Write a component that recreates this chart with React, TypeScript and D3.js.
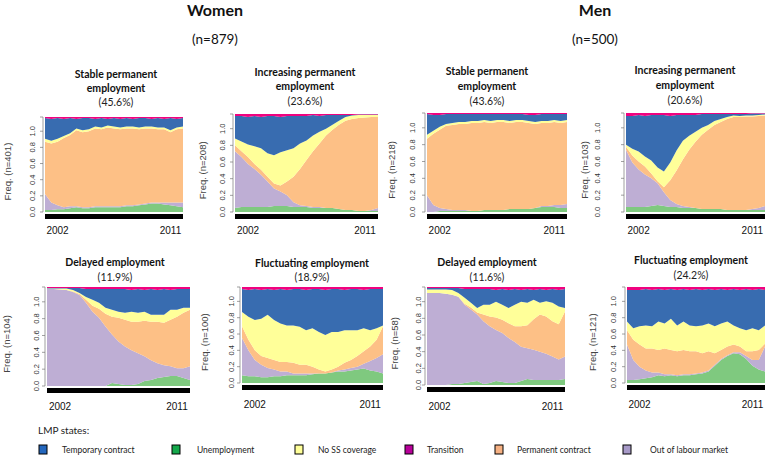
import * as d3 from 'd3'

const W = 766, H = 460

// half-year steps, Jan 2001 .. Jan 2012
const years = [2001, 2001.5, 2002, 2002.5, 2003, 2003.5, 2004, 2004.5, 2005, 2005.5, 2006, 2006.5,
  2007, 2007.5, 2008, 2008.5, 2009, 2009.5, 2010, 2010.5, 2011, 2011.5, 2012]

// stacking order, bottom -> top
const states = ['unemp', 'out', 'perm', 'noss', 'temp', 'trans']
const areaFill = {
  unemp: '#7fc97f', out: '#beaed4', perm: '#fdc086',
  noss: '#ffff99', temp: '#386cb0', trans: '#f0027f'
}

const legendLabels = ['Temporary contract', 'Unemployment', 'No SS coverage', 'Transition', 'Permanent contract', 'Out of labour market']
const legendColors = ['#2467bd', '#14a84b', '#ffff99', '#b8009a', '#f6b183', '#a79ac8']

// Women - stable permanent employment
const wStable = {
  unemp: [0.02,0.02,0.03,0.03,0.04,0.05,0.04,0.04,0.05,0.05,0.05,0.05,0.05,0.06,0.06,0.07,0.08,0.09,0.09,0.08,0.07,0.06,0.05],
  out:   [0.17,0.08,0.04,0.02,0.02,0.01,0.01,0.01,0.01,0.01,0.01,0.01,0.01,0.01,0.01,0.01,0.01,0.01,0.01,0.02,0.03,0.04,0.05],
  perm:  [0.55,0.62,0.67,0.73,0.75,0.80,0.79,0.80,0.82,0.81,0.83,0.82,0.81,0.81,0.81,0.79,0.79,0.78,0.77,0.77,0.74,0.77,0.78],
  noss:  [0.03,0.03,0.03,0.02,0.02,0.02,0.02,0.02,0.02,0.02,0.02,0.02,0.02,0.02,0.02,0.02,0.02,0.02,0.02,0.02,0.02,0.02,0.02],
  temp:  [0.22,0.23,0.22,0.18,0.16,0.10,0.13,0.12,0.08,0.10,0.07,0.09,0.09,0.09,0.08,0.10,0.09,0.08,0.10,0.09,0.13,0.09,0.09],
  trans: [0.01,0.02,0.01,0.02,0.01,0.02,0.01,0.01,0.02,0.01,0.02,0.01,0.02,0.01,0.02,0.01,0.01,0.02,0.01,0.02,0.01,0.02,0.01]
}

// Women - increasing permanent employment
const wIncreasing = {
  unemp: [0.04,0.05,0.05,0.05,0.05,0.05,0.06,0.06,0.06,0.05,0.05,0.05,0.04,0.04,0.04,0.04,0.03,0.02,0.02,0.01,0.01,0.01,0.01],
  out:   [0.58,0.51,0.44,0.39,0.33,0.26,0.18,0.15,0.11,0.05,0.02,0.01,0.01,0.01,0,0,0,0,0,0,0,0.01,0.03],
  perm:  [0.06,0.06,0.07,0.05,0.05,0.05,0.05,0.06,0.14,0.26,0.37,0.47,0.57,0.65,0.74,0.80,0.86,0.91,0.93,0.95,0.955,0.95,0.93],
  noss:  [0.07,0.10,0.13,0.18,0.22,0.24,0.29,0.34,0.32,0.29,0.26,0.20,0.16,0.12,0.07,0.05,0.04,0.04,0.035,0.03,0.025,0.02,0.02],
  temp:  [0.23,0.26,0.28,0.31,0.32,0.38,0.40,0.36,0.35,0.33,0.28,0.25,0.21,0.16,0.14,0.10,0.06,0.02,0.005,0.005,0.005,0.005,0.005],
  trans: [0.02,0.02,0.03,0.02,0.03,0.02,0.02,0.03,0.02,0.02,0.02,0.02,0.01,0.02,0.01,0.01,0.01,0.01,0.01,0.005,0.005,0.005,0.005]
}

// Men - stable permanent employment
const mStable = {
  unemp: [0,0,0.01,0.01,0.01,0.01,0.01,0.01,0.01,0.02,0.02,0.02,0.02,0.03,0.03,0.03,0.03,0.04,0.05,0.05,0.05,0.04,0.04],
  out:   [0.17,0.07,0.03,0.02,0.01,0.01,0.01,0,0,0,0,0,0,0,0,0,0,0,0.01,0.01,0.02,0.03,0.04],
  perm:  [0.57,0.72,0.79,0.84,0.86,0.87,0.87,0.89,0.89,0.89,0.88,0.89,0.89,0.87,0.88,0.88,0.87,0.85,0.84,0.84,0.84,0.83,0.83],
  noss:  [0.04,0.03,0.03,0.02,0.02,0.02,0.02,0.02,0.02,0.02,0.02,0.02,0.02,0.02,0.02,0.02,0.02,0.02,0.02,0.02,0.02,0.02,0.02],
  temp:  [0.21,0.16,0.12,0.10,0.09,0.08,0.08,0.07,0.07,0.06,0.07,0.06,0.06,0.07,0.06,0.06,0.06,0.07,0.07,0.07,0.06,0.07,0.06],
  trans: [0.01,0.02,0.02,0.01,0.01,0.01,0.01,0.01,0.01,0.01,0.01,0.01,0.01,0.01,0.01,0.01,0.02,0.02,0.01,0.01,0.01,0.01,0.01]
}

// Men - increasing permanent employment
const mIncreasing = {
  unemp: [0.05,0.05,0.05,0.05,0.06,0.07,0.06,0.05,0.05,0.04,0.04,0.04,0.03,0.03,0.03,0.03,0.02,0.02,0.02,0.02,0.02,0.02,0.02],
  out:   [0.58,0.45,0.38,0.33,0.28,0.22,0.14,0.07,0.03,0.02,0.01,0,0,0,0,0,0,0,0,0,0.01,0.02,0.04],
  perm:  [0.03,0.07,0.08,0.08,0.05,0.02,0.05,0.20,0.34,0.47,0.58,0.67,0.75,0.80,0.85,0.88,0.92,0.94,0.94,0.945,0.935,0.93,0.915],
  noss:  [0.02,0.07,0.10,0.10,0.13,0.14,0.16,0.18,0.20,0.19,0.14,0.10,0.07,0.05,0.04,0.03,0.02,0.015,0.01,0.01,0.01,0.01,0.01],
  temp:  [0.29,0.33,0.37,0.41,0.46,0.53,0.57,0.47,0.36,0.26,0.21,0.17,0.14,0.11,0.07,0.05,0.03,0.015,0.02,0.015,0.02,0.015,0.01],
  trans: [0.03,0.03,0.02,0.03,0.02,0.02,0.02,0.03,0.02,0.02,0.02,0.02,0.01,0.01,0.01,0.01,0.01,0.01,0.01,0.01,0.005,0.005,0.005]
}

// Women - delayed employment
const wDelayed = {
  unemp: [0,0,0,0,0,0,0,0,0,0,0.03,0.02,0.01,0.01,0.02,0.05,0.06,0.08,0.09,0.10,0.10,0.08,0.06],
  out:   [0.98,0.98,0.975,0.97,0.95,0.92,0.84,0.75,0.69,0.60,0.49,0.43,0.39,0.35,0.31,0.25,0.20,0.15,0.12,0.10,0.08,0.10,0.14],
  perm:  [0,0,0,0,0.005,0.01,0.03,0.06,0.09,0.13,0.18,0.24,0.27,0.29,0.32,0.36,0.39,0.42,0.43,0.47,0.52,0.56,0.57],
  noss:  [0.005,0.005,0.01,0.015,0.015,0.01,0.03,0.06,0.06,0.06,0.07,0.06,0.07,0.10,0.09,0.09,0.07,0.07,0.08,0.10,0.07,0.05,0.02],
  temp:  [0.005,0.005,0.005,0.005,0.02,0.05,0.08,0.11,0.14,0.19,0.21,0.23,0.24,0.22,0.24,0.22,0.26,0.25,0.26,0.20,0.21,0.19,0.19],
  trans: [0.01,0.01,0.01,0.01,0.01,0.01,0.02,0.02,0.02,0.02,0.02,0.02,0.02,0.03,0.02,0.03,0.02,0.03,0.02,0.03,0.02,0.02,0.02]
}

// Women - fluctuating employment
const wFluctuating = {
  unemp: [0.08,0.07,0.07,0.06,0.06,0.07,0.07,0.08,0.08,0.08,0.08,0.09,0.10,0.10,0.11,0.12,0.12,0.13,0.14,0.15,0.13,0.12,0.10],
  out:   [0.39,0.27,0.17,0.13,0.095,0.07,0.05,0.04,0.02,0.02,0.02,0.01,0,0,0,0.01,0.02,0.025,0.03,0.05,0.10,0.14,0.20],
  perm:  [0.12,0.11,0.10,0.09,0.105,0.10,0.10,0.10,0.11,0.09,0.09,0.07,0.04,0.02,0.03,0.04,0.07,0.085,0.11,0.13,0.15,0.19,0.29],
  noss:  [0.15,0.24,0.315,0.39,0.45,0.415,0.40,0.38,0.39,0.395,0.36,0.40,0.39,0.38,0.39,0.36,0.34,0.31,0.27,0.24,0.17,0.12,0.01],
  temp:  [0.24,0.28,0.325,0.30,0.27,0.315,0.36,0.37,0.38,0.395,0.42,0.41,0.45,0.47,0.45,0.45,0.42,0.43,0.43,0.40,0.43,0.41,0.38],
  trans: [0.02,0.03,0.02,0.03,0.02,0.03,0.02,0.03,0.02,0.02,0.03,0.02,0.02,0.03,0.02,0.02,0.03,0.02,0.02,0.03,0.02,0.02,0.02]
}

// Men - delayed employment
const mDelayed = {
  unemp: [0,0,0,0,0.01,0.01,0.02,0.03,0.04,0.01,0.02,0.04,0.03,0.02,0.02,0.04,0.06,0.05,0.05,0.05,0.05,0.05,0.06],
  out:   [0.94,0.94,0.94,0.93,0.91,0.89,0.80,0.74,0.68,0.64,0.58,0.52,0.50,0.46,0.42,0.35,0.315,0.31,0.29,0.27,0.24,0.21,0.23],
  perm:  [0,0,0,0,0,0,0.01,0.02,0.02,0.07,0.10,0.13,0.135,0.15,0.16,0.21,0.235,0.31,0.38,0.38,0.36,0.36,0.46],
  noss:  [0.035,0.035,0.035,0.045,0.05,0.04,0.06,0.05,0.045,0.10,0.12,0.16,0.155,0.155,0.22,0.25,0.23,0.20,0.12,0.155,0.19,0.18,0.035],
  temp:  [0.015,0.015,0.015,0.015,0.02,0.05,0.09,0.14,0.195,0.16,0.16,0.12,0.16,0.185,0.16,0.12,0.14,0.10,0.14,0.115,0.14,0.17,0.195],
  trans: [0.01,0.01,0.01,0.01,0.01,0.01,0.02,0.02,0.02,0.02,0.02,0.03,0.02,0.03,0.02,0.03,0.02,0.03,0.02,0.03,0.02,0.03,0.02]
}

// Men - fluctuating employment
const mFluctuating = {
  unemp: [0.03,0.03,0.04,0.05,0.06,0.08,0.07,0.08,0.07,0.08,0.08,0.09,0.10,0.12,0.18,0.24,0.28,0.31,0.30,0.25,0.18,0.14,0.12],
  out:   [0.37,0.21,0.13,0.08,0.05,0.03,0.02,0.01,0.01,0.01,0.01,0.01,0.01,0.01,0.01,0.01,0.01,0.01,0.02,0.03,0.06,0.10,0.26],
  perm:  [0.15,0.21,0.23,0.23,0.25,0.235,0.27,0.255,0.25,0.255,0.24,0.23,0.20,0.20,0.12,0.095,0.09,0.08,0.06,0.05,0.09,0.105,0.03],
  noss:  [0.09,0.12,0.19,0.24,0.23,0.295,0.26,0.325,0.27,0.295,0.27,0.26,0.29,0.29,0.28,0.275,0.26,0.20,0.19,0.22,0.24,0.205,0.19],
  temp:  [0.33,0.40,0.38,0.38,0.38,0.34,0.35,0.31,0.37,0.34,0.37,0.39,0.37,0.36,0.38,0.36,0.33,0.38,0.40,0.43,0.40,0.43,0.37],
  trans: [0.03,0.03,0.03,0.02,0.03,0.02,0.03,0.02,0.03,0.02,0.03,0.02,0.03,0.02,0.03,0.02,0.03,0.02,0.03,0.02,0.03,0.02,0.03]
}

// panel layout: plot box, tick label column, y label column, title lines
const panels = [
  { data: wStable, title: ['Stable permanent', 'employment'], pct: '(45.6%)', n: 401,
    x0: 45, x1: 183, top: 117, bottom: 212, tickX: 33, labX: 8, cx: 116, ty: [75, 89, 103], yearY: 231 },
  { data: wIncreasing, title: ['Increasing permanent', 'employment'], pct: '(23.6%)', n: 208,
    x0: 235, x1: 378, top: 114, bottom: 212, tickX: 223, labX: 203, cx: 305, ty: [73, 87, 102], yearY: 231 },
  { data: mStable, title: ['Stable permanent', 'employment'], pct: '(43.6%)', n: 218,
    x0: 427, x1: 567, top: 113, bottom: 212, tickX: 413, labX: 392, cx: 487, ty: [72, 87, 102], yearY: 231 },
  { data: mIncreasing, title: ['Increasing permanent', 'employment'], pct: '(20.6%)', n: 103,
    x0: 626, x1: 765, top: 113, bottom: 212, tickX: 598, labX: 585, cx: 685, ty: [71, 86, 101], yearY: 231 },
  { data: wDelayed, title: ['Delayed employment'], pct: '(11.9%)', n: 104,
    x0: 47, x1: 190, top: 287, bottom: 386, tickX: 37, labX: 7, cx: 115, ty: [263, 278], yearY: 407 },
  { data: wFluctuating, title: ['Fluctuating employment'], pct: '(18.9%)', n: 100,
    x0: 242, x1: 383, top: 287, bottom: 383, tickX: 232, labX: 205, cx: 312, ty: [264, 278], yearY: 405 },
  { data: mDelayed, title: ['Delayed employment'], pct: '(11.6%)', n: 58,
    x0: 427, x1: 565, top: 287, bottom: 385, tickX: 419, labX: 395, cx: 487, ty: [263, 278], yearY: 407 },
  { data: mFluctuating, title: ['Fluctuating employment'], pct: '(24.2%)', n: 121,
    x0: 627, x1: 765, top: 287, bottom: 383, tickX: 614, labX: 593, cx: 691, ty: [261, 276], yearY: 405 }
]

const legendSquareX = [39, 172, 295, 405, 495, 623]
const legendTextX = [62, 197, 318, 427, 517, 650]

const titleFont = 'Lato, "Open Sans", sans-serif'
const rFont = '"Liberation Sans", Arial, sans-serif'

const Panel = ({ p }) => {
  const rows = years.map((t, i) => {
    const r = { t }
    states.forEach(s => { r[s] = p.data[s][i] })
    return r
  })
  const series = d3.stack().keys(states).offset(d3.stackOffsetExpand)(rows)

  const x = d3.scaleLinear().domain([2001, 2012]).range([p.x0, p.x1])
  const y = d3.scaleLinear().domain([0, 1]).range([p.bottom, p.top])
  // axis labels in the source sit lower than the top of the stack
  const yAxis = d3.scaleLinear().domain([0, 1.176]).range([p.bottom, p.top])

  const area = d3.area()
    .x(d => x(d.data.t))
    .y0(d => y(d[0]))
    .y1(d => y(d[1]))

  const ticks = [0, 0.2, 0.4, 0.6, 0.8, 1.0]
  const fmt = d3.format('.1f')
  const axX = p.x0 - 2

  return (
    <g>
      {p.title.map((line, i) => (
        <text key={line} x={p.cx} y={p.ty[i]} textAnchor='middle' dominantBaseline='middle'
          fontFamily={titleFont} fontWeight='bold' fontSize='10.5' fill='#111'>{line}</text>
      ))}
      <text x={p.cx} y={p.ty[p.ty.length - 1]} textAnchor='middle' dominantBaseline='middle'
        fontFamily={titleFont} fontSize='10.5' fill='#222'>{p.pct}</text>

      {series.map(s => (
        <path key={s.key} d={area(s)} fill={areaFill[s.key]} />
      ))}

      <rect x={p.x0} y={p.bottom + 2} width={p.x1 - p.x0} height='5' fill='#000' />

      <line x1={axX} x2={axX} y1={p.bottom} y2={p.top} stroke='#777' strokeWidth='0.7' />
      <line x1={axX - 3} x2={axX} y1={p.top} y2={p.top} stroke='#777' strokeWidth='0.7' />
      {ticks.map(v => (
        <g key={v}>
          <line x1={axX - 3} x2={axX} y1={yAxis(v)} y2={yAxis(v)} stroke='#777' strokeWidth='0.7' />
          <text transform={`translate(${p.tickX}, ${yAxis(v)}) rotate(-90)`} textAnchor='middle'
            dominantBaseline='middle' fontFamily={rFont} fontSize='7.5' fill='#333'>{fmt(v)}</text>
        </g>
      ))}
      <text transform={`translate(${p.labX}, ${yAxis(0.5)}) rotate(-90)`} textAnchor='middle'
        dominantBaseline='middle' fontFamily={rFont} fontSize='9.5' fill='#444'>{`Freq. (n=${p.n})`}</text>

      {[2002, 2011].map(yr => (
        <text key={yr} x={x(yr)} y={p.yearY} textAnchor='middle' dominantBaseline='middle'
          fontFamily={rFont} fontSize='10' fill='#111'>{yr}</text>
      ))}
    </g>
  )
}

export default function App() {
  return (
    <svg width={W} height={H} style={{ position: 'absolute', left: 0, top: 0, background: '#fff' }}>
      <text x='215' y='12' textAnchor='middle' dominantBaseline='middle' fontFamily={titleFont}
        fontWeight='bold' fontSize='16' fill='#111'>Women</text>
      <text x='215' y='41' textAnchor='middle' dominantBaseline='middle' fontFamily={titleFont}
        fontSize='13.5' fill='#111'>(n=879)</text>
      <text x='595' y='12' textAnchor='middle' dominantBaseline='middle' fontFamily={titleFont}
        fontWeight='bold' fontSize='16' fill='#111'>Men</text>
      <text x='595' y='41' textAnchor='middle' dominantBaseline='middle' fontFamily={titleFont}
        fontSize='13.5' fill='#111'>(n=500)</text>

      {panels.map((p, i) => <Panel key={i} p={p} />)}

      <text x='38' y='431' dominantBaseline='middle' fontFamily={titleFont} fontSize='10' fill='#222'>LMP states:</text>
      {legendLabels.map((lab, i) => (
        <g key={lab}>
          <rect x={legendSquareX[i]} y='445' width='8' height='9' fill={legendColors[i]} stroke='#000' strokeWidth='1' />
          <text x={legendTextX[i]} y='451' dominantBaseline='middle' fontFamily={titleFont}
            fontSize='8.5' fill='#222'>{lab}</text>
        </g>
      ))}
    </svg>
  )
}
